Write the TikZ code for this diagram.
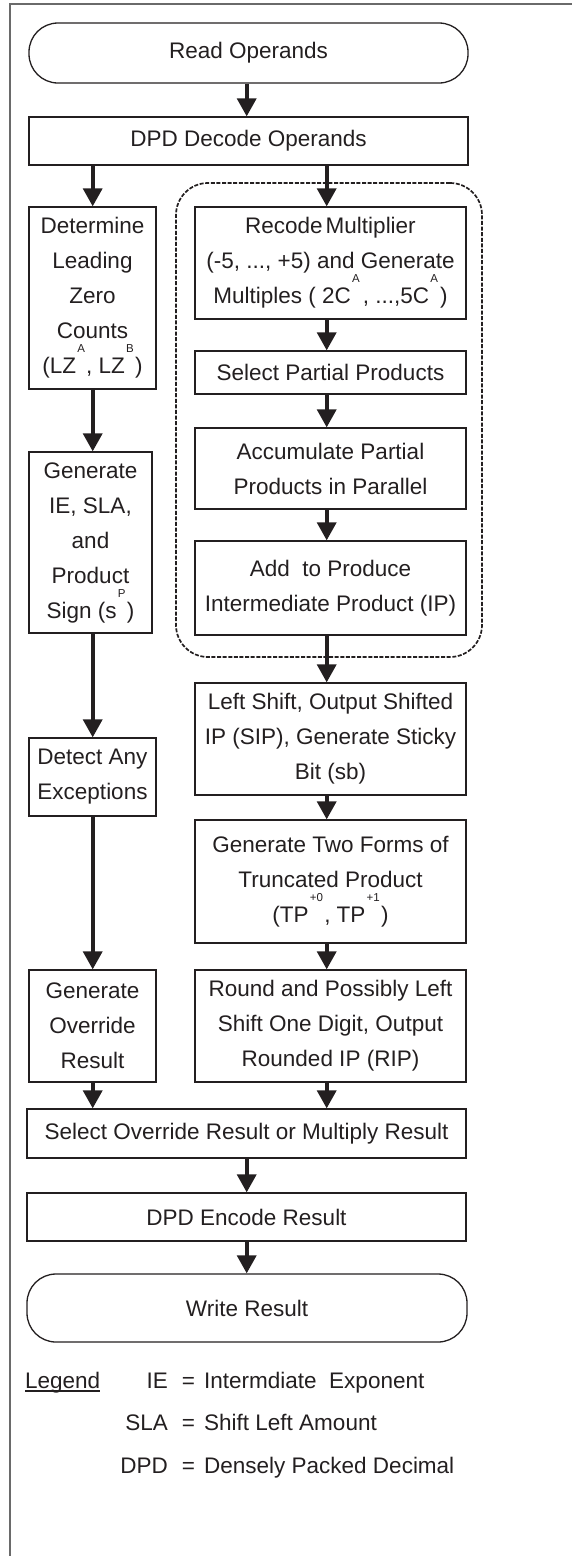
\documentclass[tikz,border=0pt]{standalone}
\usepackage{fontspec}
\setmainfont{Liberation Sans}
\usetikzlibrary{arrows.meta}
\definecolor{ink}{HTML}{231F20}
\definecolor{framegray}{HTML}{6A6A6A}
% small raised index letters
\newcommand\hsup[1]{\kern1.2pt\smash{\raisebox{21pt}{\fontsize{11.5}{11.5}\selectfont #1}}\kern1.2pt}

\begin{document}
\begin{tikzpicture}[x=1pt,y=-1pt,
  blk/.style={draw=ink, line width=1.3pt, align=center, inner sep=0pt, text=ink,
              font=\fontsize{22.5}{35}\selectfont},
  term/.style={blk, rounded corners=29pt},
  arr/.style={draw=ink, line width=3.6pt, -{Triangle[width=19pt,length=18pt]}},
  grpbox/.style={draw=ink, line width=1.7pt, dash pattern=on 4pt off 1.6pt, rounded corners=32pt},
  lgd/.style={inner sep=0pt, text=ink, font=\fontsize{22.5}{27}\selectfont}
]
\useasboundingbox (0,0) rectangle (572,1556);

% outer frame (top and left edges)
\draw[framegray, line width=1.8pt] (572,4.3) -- (10,4.3) -- (10,1556);

% column guides for the connectors
\coordinate (cL) at (92.7,0);
\coordinate (cR) at (326.7,0);
\coordinate (cM) at (246.7,0);

% common steps
\node[term, minimum width=439pt, minimum height=60pt] (read) at (248.5,53) {Read Operands};
\node[blk, minimum width=439pt, minimum height=48pt] (dec) at (248.5,141) {DPD Decode Operands};

% left column
\node[blk, minimum width=127pt, minimum height=182pt] (lz) at (92.5,298)
  {Determine\\Leading\\Zero\\Counts\\(LZ\hsup{A}, LZ\hsup{B})};
\node[blk, minimum width=123pt, minimum height=181pt] (gen) at (90.5,542.5)
  {Generate\\IE, SLA,\\and\\Product\\Sign (s\hsup{P})};
\node[blk, minimum width=127pt, minimum height=78pt] (det) at (92.5,777)
  {Detect Any\\Exceptions};
\node[blk, minimum width=127pt, minimum height=112pt] (ovr) at (92.5,1026)
  {Generate\\Override\\Result};

% multiplier core (grouped)
\node[grpbox, minimum width=306pt, minimum height=474pt] (grp) at (329,420) {};
\node[blk, minimum width=271pt, minimum height=112pt] (rec) at (330.5,263)
  {Recode\kern3pt Multiplier\\(-5, ..., +5) and Generate\\Multiples ( 2C\hsup{A}\kern2pt, ...,5C\hsup{A}\kern1pt)};
\node[blk, minimum width=271pt, minimum height=43pt] (sel) at (330.5,372.5)
  {Select Partial Products};
\node[blk, minimum width=271pt, minimum height=81pt] (acc) at (330.5,468.5)
  {Accumulate Partial\\Products in Parallel};
\node[blk, minimum width=271pt, minimum height=94pt] (add) at (330.5,588)
  {Add\ \ to Produce\\Intermediate Product (IP)};

% right column after the core
\node[blk, minimum width=271pt, minimum height=112pt] (shf) at (330.5,739)
  {Left Shift, Output Shifted\\IP (SIP), Generate Sticky\\Bit (sb)};
\node[blk, minimum width=271pt, minimum height=123pt] (two) at (330.5,881.5)
  {Generate Two Forms of\\Truncated Product\\(TP\hsup{+0}, TP\hsup{+1})};
\node[blk, minimum width=271pt, minimum height=112pt] (rnd) at (330.5,1026)
  {Round and Possibly Left\\Shift One Digit, Output\\Rounded IP (RIP)};

% final steps
\node[blk, minimum width=439pt, minimum height=49pt] (mux) at (246.5,1133.5)
  {Select Override Result or Multiply Result};
\node[blk, minimum width=439pt, minimum height=48pt] (enc) at (246.5,1217)
  {DPD Encode Result};
\node[term, minimum width=440pt, minimum height=68pt] (wr) at (247,1308)
  {Write Result};

% connectors
\draw[arr] (read.south -| cM) -- (dec.north -| cM);
\draw[arr] (dec.south -| cL) -- (lz.north -| cL);
\draw[arr] (dec.south -| cR) -- (rec.north -| cR);
\draw[arr] (lz.south -| cL) -- (gen.north -| cL);
\draw[arr] (gen.south -| cL) -- (det.north -| cL);
\draw[arr] (det.south -| cL) -- (ovr.north -| cL);
\draw[arr] (rec.south -| cR) -- (sel.north -| cR);
\draw[arr] (sel.south -| cR) -- (acc.north -| cR);
\draw[arr] (acc.south -| cR) -- (add.north -| cR);
\draw[arr] (add.south -| cR) -- (shf.north -| cR);
\draw[arr] (shf.south -| cR) -- (two.north -| cR);
\draw[arr] (two.south -| cR) -- (rnd.north -| cR);
\draw[arr] (ovr.south -| cL) -- (mux.north -| cL);
\draw[arr] (rnd.south -| cR) -- (mux.north -| cR);
\draw[arr] (mux.south -| cM) -- (enc.north -| cM);
\draw[arr] (enc.south -| cM) -- (wr.north -| cM);

% legend
\node[lgd, anchor=base west] (lg) at (25,1388) {Legend};
\draw[ink, line width=1.2pt] ([yshift=-3pt]lg.base west) -- ([yshift=-3pt]lg.base east);
\node[lgd, anchor=base east] (k1) at (168,1388) {IE};
\node[lgd, anchor=base east] (k2) at (168,1430) {SLA};
\node[lgd, anchor=base east] (k3) at (168,1473) {DPD};
\node[lgd, anchor=base] (e1) at (188.5,1388) {=};
\node[lgd, anchor=base] (e2) at (188.5,1430) {=};
\node[lgd, anchor=base] (e3) at (188.5,1473) {=};
\node[lgd, anchor=base west] (v1) at (204,1388) {Intermdiate\ \ Exponent};
\node[lgd, anchor=base west] (v2) at (204,1430) {Shift Left Amount};
\node[lgd, anchor=base west] (v3) at (204,1473) {Densely Packed Decimal};
\end{tikzpicture}
\end{document}
